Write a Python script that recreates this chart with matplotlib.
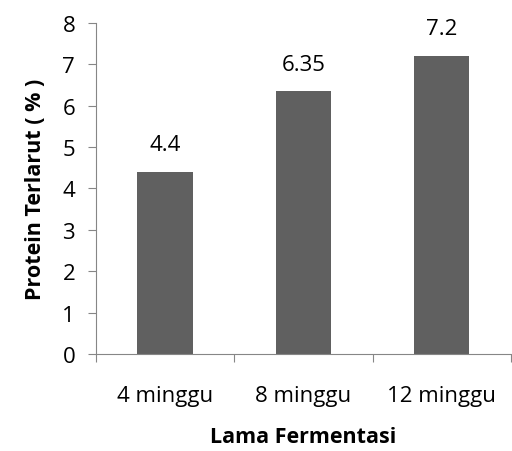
import numpy as np
import matplotlib.pyplot as plt

plt.rcParams['font.family'] = ['Open Sans', 'DejaVu Sans']

categories = ['4 minggu', '8 minggu', '12 minggu']
protein = [4.4, 6.35, 7.2]
value_labels = ['4.4', '6.35', '7.2']

fig = plt.figure(figsize=(5.12, 4.52), dpi=100)
ax = fig.add_axes([0.1875, 0.2146, 0.8105, 0.7324])

x = np.arange(len(categories))
bars = ax.bar(x, protein, width=0.4, color='#606060', zorder=2)
for b, lab in zip(bars, value_labels):
    ax.annotate(lab, (b.get_x() + b.get_width() / 2, b.get_height()),
                xytext=(0, 12), textcoords='offset points',
                ha='center', va='bottom', fontsize=16, color='black')

ax.set_xlim(-0.5, 2.5)
ax.set_ylim(0, 8)
ax.set_yticks(range(0, 9))
ax.set_xticks([-0.5, 0.5, 1.5, 2.5], minor=False)
ax.set_xticklabels([])
ax.set_xticks(x, minor=True)
ax.set_xticklabels(categories, minor=True, fontsize=16)
ax.tick_params(axis='x', which='minor', length=0, pad=22)
ax.tick_params(axis='x', which='major', length=6, color='#868686', direction='out')
ax.tick_params(axis='y', length=6, color='#868686', labelsize=16, pad=9)

for s in ['top', 'right']:
    ax.spines[s].set_visible(False)
for s in ['left', 'bottom']:
    ax.spines[s].set_color('#868686')

ax.set_xlabel('Lama Fermentasi', fontsize=15.5, fontweight='bold', labelpad=15)
ax.set_ylabel('Protein Terlarut ( % )', fontsize=15.5, fontweight='bold', labelpad=12)

fig.savefig('out.png', dpi=100)
